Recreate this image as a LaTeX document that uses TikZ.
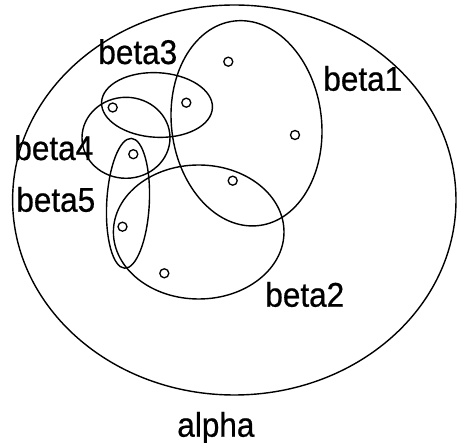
\documentclass[tikz,border=0pt]{standalone}
\usepackage{fontspec}
\setmainfont{Liberation Sans}[FakeStretch=0.92, FakeBold=0.6]
\usetikzlibrary{positioning}

\begin{document}
\begin{tikzpicture}[
        x=0.02cm, y=0.02cm,
        every node/.style={font=\fontsize{19.5pt}{22pt}\selectfont, inner sep=0pt, anchor=base west},
        setline/.style={draw=black, line width=0.8pt},
        member/.style={draw=black, line width=0.75pt}
    ]
    \useasboundingbox (0,0) rectangle (457,443);

    % Universe alpha
    \draw[setline] (234.3,243) ellipse [x radius=221.7, y radius=195];

    % Sets beta1 ... beta5
    \draw[setline] (246.5,319.7) ellipse [x radius=75, y radius=103, rotate=7];
    \draw[setline] (198.7,211) ellipse [x radius=85.3, y radius=67];
    \draw[setline] (157,338) ellipse [x radius=55.5, y radius=32.3, rotate=-3];
    \draw[setline] (126,305.2) ellipse [x radius=44, y radius=40.5];
    \draw[setline] (128,239.7) ellipse [x radius=21.3, y radius=65, rotate=-3];

    % Elements
    \foreach \px/\py in {228.3/381.3, 186.3/340.3, 112.7/335.5, 295/308,
                         133.3/288.8, 232.7/262.3, 122.5/216.3, 164.3/169.7}
        \draw[member] (\px,\py) circle [radius=4.5];

    % Labels
    \node (beta3) at (98,379) {beta3};
    \node (beta1) at (323,352.3) {beta1};
    \node (beta4) at (14,283) {beta4};
    \node (beta5) at (16,231.3) {beta5};
    \node (beta2) at (265,136.3) {beta2};
    \node (alpha) at (177,6.3) {alpha};

\end{tikzpicture}
\end{document}
